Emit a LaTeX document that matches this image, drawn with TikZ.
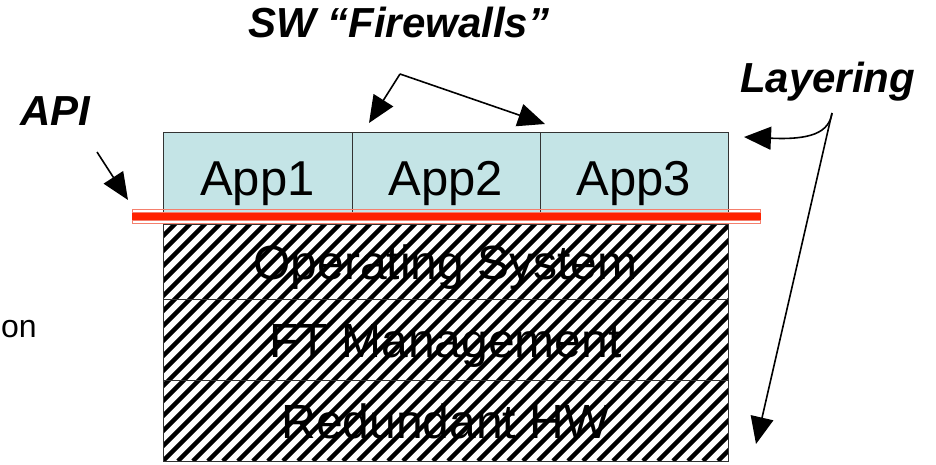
\documentclass[tikz,border=0pt]{standalone}
\usepackage{fontspec}
\setmainfont{Liberation Sans}
\usepackage{pdfrender}
\usetikzlibrary{arrows.meta}
\definecolor{appfill}{RGB}{196,228,230}
\definecolor{apired}{RGB}{255,34,0}
\definecolor{apipale}{RGB}{244,128,110}
\newcommand{\hollow}[1]{\textpdfrender{TextRenderingMode=1,LineWidth=1.5}{#1}}
\begin{document}
\begin{tikzpicture}[x=1pt,y=-1pt,
  every node/.style={inner sep=0pt},
  callout/.style={font=\fontsize{42}{42}\selectfont\bfseries\itshape},
  apptext/.style={font=\fontsize{49}{49}\selectfont},
  layertext/.style={font=\fontsize{48}{48}\selectfont},
  pointer/.style={line width=1.6pt,-{Triangle[length=27pt,width=23pt]}},
  cell/.style={draw=black!80,line width=0.9pt,minimum width=#1,anchor=north west},
]
\useasboundingbox (0,0) rectangle (936,465);

% application cells
\node[cell=189pt,fill=appfill,minimum height=81pt] (app1) at (163,132) {};
\node[cell=188pt,fill=appfill,minimum height=81pt] (app2) at (352,132) {};
\node[cell=188pt,fill=appfill,minimum height=81pt] (app3) at (540,132) {};
\node[apptext,anchor=base] (app1t) at (257.5,195) {App1};
\node[apptext,anchor=base] (app2t) at (446,195) {App2};
\node[apptext,anchor=base] (app3t) at (634,195) {App3};

% hatched lower layers
\begin{scope}
  \clip (163,224) rectangle (728,461);
  \foreach \k in {0,...,56}
    \draw[line width=4.5pt] ({-77+\k*15},461) -- ++(250,-250);
\end{scope}
\node[cell=565pt,minimum height=75pt] (os) at (163,224) {};
\node[cell=565pt,minimum height=81pt] (ft) at (163,299) {};
\node[cell=565pt,minimum height=81pt] (hw) at (163,380) {};
\node[layertext,anchor=base] (ost) at (445.5,279) {\hollow{Operating System}};
\node[layertext,anchor=base] (ftt) at (445.5,357) {\hollow{FT Management}};
\node[layertext,anchor=base] (hwt) at (445.5,438) {\hollow{Redundant HW}};

% API line
\fill[apired] (132,212.5) rectangle (761,220);
\draw[apipale,line width=1pt] (132,209) rectangle (760,212);
\draw[apipale,line width=1pt] (132,220.5) rectangle (760,223.5);

% labels
\node[callout,anchor=base west] (api) at (20,126) {API};
\node[callout,anchor=base west] (fw) at (248,38) {SW “Firewalls”};
\node[callout,anchor=base west] (lay) at (740,93) {Layering};
\node[font=\fontsize{32}{32}\selectfont,anchor=base east] (iso) at (37,337) {on};

% pointers
\coordinate (apiTail) at (97,152);
\coordinate (apiTip) at (128,200);
\draw[pointer] (apiTail) -- (apiTip);

\coordinate (fwApex) at (400,74);
\coordinate (fwLeft) at (369,123);
\coordinate (fwRight) at (545,124);
\draw[pointer] (fwApex) -- (fwLeft);
\draw[pointer] (fwApex) -- (fwRight);

\coordinate (layTop) at (832,113);
\coordinate (layApp) at (744,137);
\coordinate (layHW) at (756,444);
\draw[pointer] (layTop) .. controls (829,133) and (810,140) .. (layApp);
\draw[pointer] (layTop) -- (layHW);
\end{tikzpicture}
\end{document}
